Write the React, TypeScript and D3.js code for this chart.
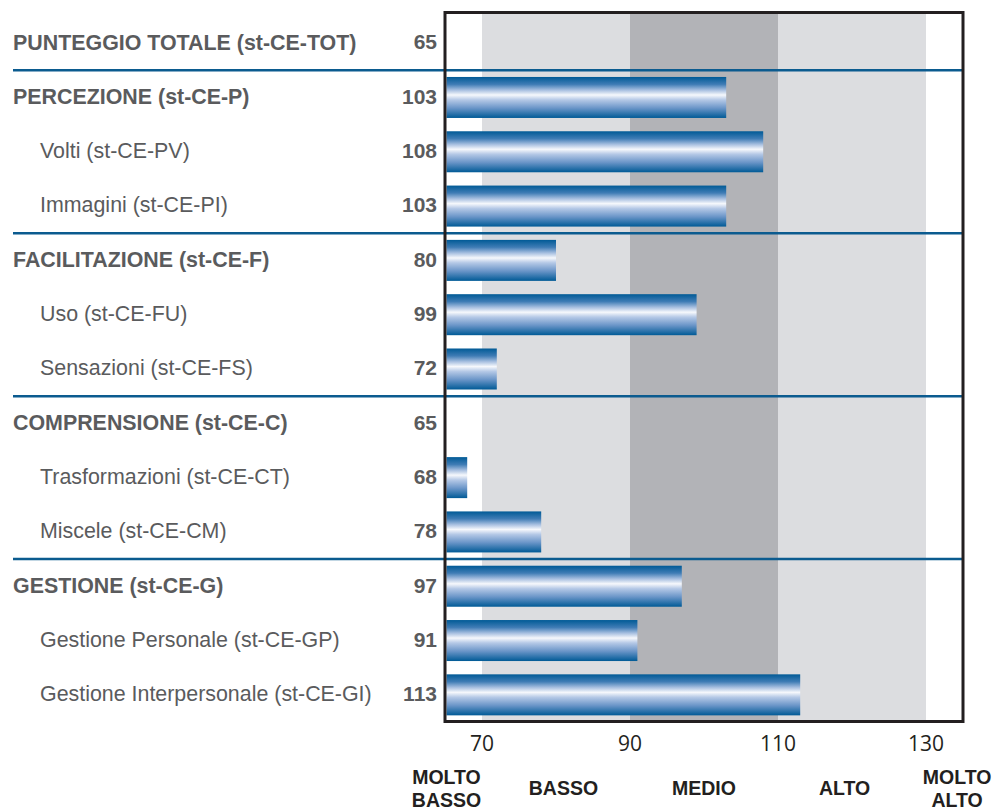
import React from "react";
import * as d3 from "d3";

const labels = [
  "PUNTEGGIO TOTALE (st-CE-TOT)",
  "PERCEZIONE (st-CE-P)",
  "Volti (st-CE-PV)",
  "Immagini (st-CE-PI)",
  "FACILITAZIONE (st-CE-F)",
  "Uso (st-CE-FU)",
  "Sensazioni (st-CE-FS)",
  "COMPRENSIONE (st-CE-C)",
  "Trasformazioni (st-CE-CT)",
  "Miscele (st-CE-CM)",
  "GESTIONE (st-CE-G)",
  "Gestione Personale (st-CE-GP)",
  "Gestione Interpersonale (st-CE-GI)",
];
const isGroup = [true, true, false, false, true, false, false, true, false, false, true, false, false];
const values = [65, 103, 108, 103, 80, 99, 72, 65, 68, 78, 97, 91, 113];
const separatorsAfter = [0, 3, 6, 9];
const bands = [
  { from: 70, to: 90, color: "#dcdde0" },
  { from: 90, to: 110, color: "#b2b3b7" },
  { from: 110, to: 130, color: "#dcdde0" },
];
const ticks = [70, 90, 110, 130];
const categories = [
  { lines: ["MOLTO", "BASSO"], at: 65.2 },
  { lines: ["BASSO"], at: 81 },
  { lines: ["MEDIO"], at: 100 },
  { lines: ["ALTO"], at: 119 },
  { lines: ["MOLTO", "ALTO"], at: 134.2 },
];

export default function App() {
  const W = 997;
  const H = 812;
  const x = d3.scaleLinear().domain([65, 135]).range([445, 963]);
  const y = d3
    .scaleBand<number>()
    .domain(d3.range(labels.length))
    .range([16, 722])
    .paddingInner(0);
  const step = y.step();
  const barH = step * 0.755;
  const frameTop = 12.5;
  const frameBottom = 721.5;
  const textColor = "#5a5b5d";
  const sans = "'Liberation Sans', Arial, sans-serif";

  return (
    <svg
      width={W}
      height={H}
      style={{ position: "absolute", left: 0, top: 0 }}
    >
      <defs>
        <linearGradient id="barGrad" x1="0" y1="0" x2="0" y2="1">
          <stop offset="0%" stopColor="#005a96" />
          <stop offset="18%" stopColor="#3f7cb5" />
          <stop offset="32%" stopColor="#a7bfe0" />
          <stop offset="44%" stopColor="#f6f8fc" />
          <stop offset="56%" stopColor="#b4c8e6" />
          <stop offset="76%" stopColor="#6a95c8" />
          <stop offset="100%" stopColor="#005a96" />
        </linearGradient>
      </defs>
      <rect x={0} y={0} width={W} height={H} fill="#ffffff" />
      {bands.map((b, i) => (
        <rect
          key={"band" + i}
          x={x(b.from)}
          y={frameTop}
          width={x(b.to) - x(b.from)}
          height={frameBottom - frameTop}
          fill={b.color}
        />
      ))}
      {separatorsAfter.map((r) => {
        const yy = (y(r) as number) + step;
        return (
          <line
            key={"sep" + r}
            x1={13}
            x2={x(135)}
            y1={yy}
            y2={yy}
            stroke="#0b5b8f"
            strokeWidth={2.5}
          />
        );
      })}
      {values.map((v, i) => {
        const cy = (y(i) as number) + step / 2;
        return v > 65 ? (
          <rect
            key={"bar" + i}
            x={x(65) + 1.5}
            y={cy - barH / 2}
            width={x(v) - x(65) - 1.5}
            height={barH}
            fill="url(#barGrad)"
          />
        ) : null;
      })}
      <rect
        x={x(65)}
        y={frameTop}
        width={x(135) - x(65)}
        height={frameBottom - frameTop}
        fill="none"
        stroke="#231f20"
        strokeWidth={3}
      />
      {labels.map((l, i) => {
        const cy = (y(i) as number) + step / 2;
        return (
          <g key={"lab" + i}>
            <text
              x={isGroup[i] ? 13 : 40}
              y={cy}
              dy="0.3em"
              fontFamily={sans}
              fontSize={21.4}
              fontWeight={isGroup[i] ? "bold" : "normal"}
              fill={textColor}
            >
              {l}
            </text>
            <text
              x={437}
              y={cy}
              dy="0.3em"
              textAnchor="end"
              fontFamily={sans}
              fontSize={21}
              fontWeight="bold"
              fill={textColor}
            >
              {values[i]}
            </text>
          </g>
        );
      })}
      {ticks.map((t) => (
        <text
          key={"tick" + t}
          x={x(t)}
          y={751}
          textAnchor="middle"
          fontFamily="'Open Sans', sans-serif"
          fontSize={21}
          fill="#231f20"
        >
          {t}
        </text>
      ))}
      {categories.map((c, i) => (
        <text
          key={"cat" + i}
          x={x(c.at)}
          textAnchor="middle"
          fontFamily={sans}
          fontSize={19.5}
          fontWeight="bold"
          fill="#231f20"
        >
          {c.lines.length === 1 ? (
            <tspan x={x(c.at)} y={795}>
              {c.lines[0]}
            </tspan>
          ) : (
            c.lines.map((ln, j) => (
              <tspan key={j} x={x(c.at)} y={784 + j * 23}>
                {ln}
              </tspan>
            ))
          )}
        </text>
      ))}
    </svg>
  );
}
